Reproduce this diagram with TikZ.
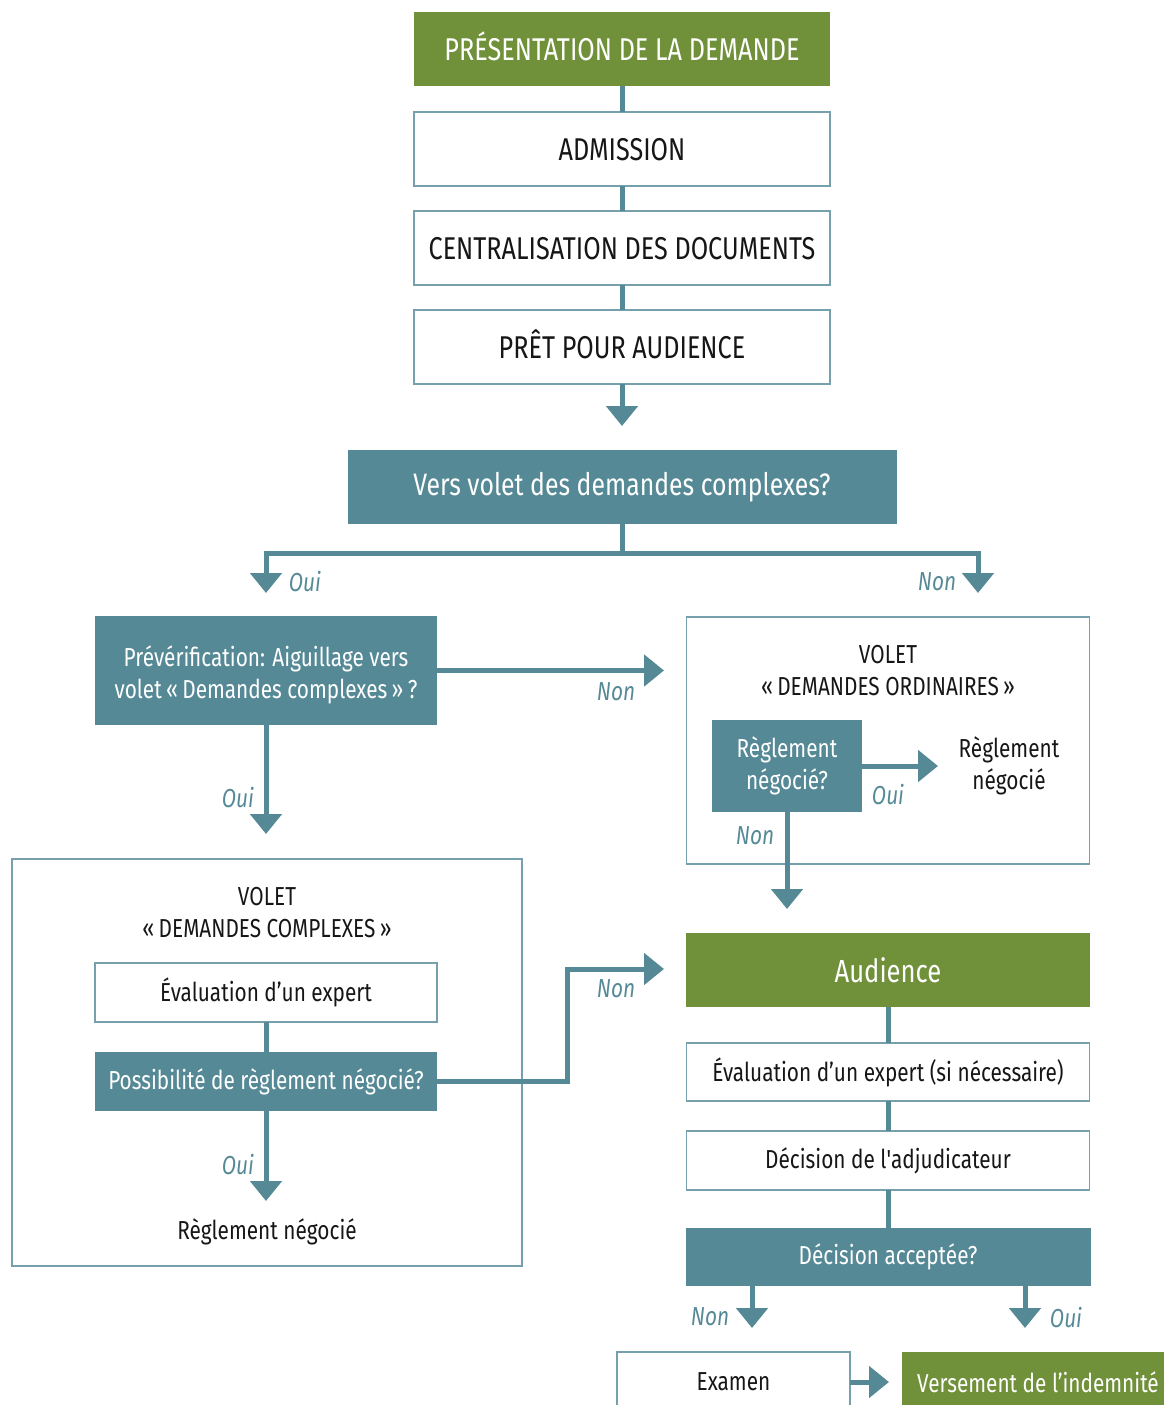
\documentclass[tikz,border=0pt]{standalone}
\usepackage{fontspec}
\setmainfont{Fira Sans}[FakeStretch=0.8]
\newfontfamily\flatquote{Fira Sans}[FakeStretch=0.8]
\usetikzlibrary{arrows.meta}
\definecolor{FlowTeal}{RGB}{85,137,150}
\definecolor{FlowGreen}{RGB}{112,144,58}
\definecolor{FlowEdge}{RGB}{118,160,172}
\definecolor{FlowInk}{RGB}{22,22,22}
\tikzset{
    flow/diagram/.style={
        x=1pt, y=-1pt,
        font=\fontsize{26}{32}\selectfont,
        text=FlowInk,
        line join=miter,
        every node/.style={inner sep=0pt, outer sep=0pt}
    },
    flow/title/.style={font=\fontsize{31.5}{34}\selectfont, text height=22pt, text depth=0pt},
    flow/green/.style={fill=FlowGreen, text=white, align=center},
    flow/stage/.style={
        draw=FlowEdge, line width=1.5pt, fill=white,
        text=FlowInk, align=center
    },
    flow/query/.style={fill=FlowTeal, text=white, align=center},
    flow/panel/.style={draw=FlowEdge, line width=1.5pt},
    flow/link/.style={draw=FlowTeal, line width=5pt},
    flow/arrow/.style={
        draw=FlowTeal, line width=5pt,
        -{Triangle[length=20pt, width=31pt]}
    },
    flow/answer/.style={text=FlowTeal, font=\fontsize{26}{32}\selectfont\itshape},
    flow/header/.style={align=center, text=FlowInk}
}
\begin{document}
\begin{tikzpicture}[flow/diagram]
    \useasboundingbox (0,0) rectangle (1164,1405);
    % panels
    \node[flow/panel, minimum width=403, minimum height=247] (ordi) at (888,740.5) {};
    \node[flow/panel, minimum width=510, minimum height=407] (cplx) at (267,1062.5) {};
    \node[flow/header] (ordihead) at (888,671) {VOLET\\«\,DEMANDES ORDINAIRES\,»};
    \node[flow/header] (cplxhead) at (267,913) {VOLET\\«\,DEMANDES COMPLEXES\,»};
    % upper chain
    \node[flow/green, flow/title, minimum width=416, minimum height=74] (pres) at (622,49) {PRÉSENTATION DE LA DEMANDE};
    \node[flow/stage, flow/title, minimum width=416, minimum height=74] (adm) at (622,149) {ADMISSION};
    \node[flow/stage, flow/title, minimum width=416, minimum height=74] (cent) at (622,248) {CENTRALISATION DES DOCUMENTS};
    \node[flow/stage, flow/title, minimum width=416, minimum height=74] (pret) at (622,347) {PRÊT POUR AUDIENCE};
    \node[flow/query, font=\fontsize{31}{36}\selectfont, minimum width=549, minimum height=74] (vers) at (622,487) {Vers volet des demandes complexes?};
    \node[flow/query, minimum width=342, minimum height=109] (prev) at (266,670.5) {\rule{0pt}{30pt}Prévérification: Aiguillage vers\\volet\,«\,Demandes complexes\,»\,?};
    % ordinary track
    \node[flow/query, minimum width=150, minimum height=92] (regq) at (787,766) {Règlement\\négocié?};
    \node[flow/header] (regA) at (1009,766) {Règlement\\négocié};
    % complex track
    \node[flow/stage, minimum width=342, minimum height=59] (evalA) at (266,992.5) {Évaluation d’un expert};
    \node[flow/query, minimum width=342, minimum height=59] (poss) at (266,1081.5) {Possibilité de règlement négocié?};
    \node (regB) at (267,1232) {Règlement négocié};
    % hearing
    \node[flow/green, font=\fontsize{32}{36}\selectfont, minimum width=404, minimum height=74] (aud) at (888,970) {Audience};
    \node[flow/stage, minimum width=403, minimum height=58] (evalB) at (888,1072) {Évaluation d’un expert (si nécessaire)};
    \node[flow/stage, minimum width=403, minimum height=59] (dec) at (888,1160.5) {Décision de l{\flatquote '}adjudicateur};
    \node[flow/query, minimum width=405, minimum height=58] (acc) at (888,1257) {Décision acceptée?};
    \node[flow/stage, minimum width=233, minimum height=60] (exam) at (733.5,1382) {Examen};
    \node[flow/green, minimum width=272, minimum height=60] (vers2) at (1038,1382) {Versement de l’indemnité};
    % free ends
    \coordinate (pretTip) at (622,426);
    \coordinate (split) at (622,553);
    \coordinate (ouiTip) at (266,593);
    \coordinate (nonTip) at (978,593);
    \coordinate (prevNon) at (664,670.5);
    \coordinate (prevOui) at (266,834);
    \coordinate (regOui) at (938,766);
    \coordinate (regNon) at (787,909);
    \coordinate (possOui) at (266,1201);
    \coordinate (possNon) at (664,969);
    \coordinate (accNon) at (752,1328);
    \coordinate (accOui) at (1025,1328);
    \coordinate (examTip) at (889,1382);
    % connectors
    \draw[flow/link] (pres) -- (adm);
    \draw[flow/link] (adm) -- (cent);
    \draw[flow/link] (cent) -- (pret);
    \draw[flow/arrow] (pret) -- (pretTip);
    \draw[flow/link] (vers) -- (split);
    \draw[flow/arrow] (split) -| (ouiTip);
    \draw[flow/arrow] (split) -| (nonTip);
    \draw[flow/arrow] (prev) -- (prevNon);
    \draw[flow/arrow] (prev) -- (prevOui);
    \draw[flow/arrow] (regq.east |- regOui) -- (regOui);
    \draw[flow/arrow] (regq) -- (regNon);
    \draw[flow/link] (evalA) -- (poss);
    \draw[flow/arrow] (poss) -- (possOui);
    \draw[flow/arrow] (poss.east) -- ++(130,0) |- (possNon);
    \draw[flow/link] (aud) -- (evalB);
    \draw[flow/link] (evalB) -- (dec);
    \draw[flow/link] (dec) -- (acc);
    \draw[flow/arrow] (acc.south -| accNon) -- (accNon);
    \draw[flow/arrow] (acc.south -| accOui) -- (accOui);
    \draw[flow/arrow] (exam) -- (examTip);
    % answers
    \node[flow/answer] (lOuiA) at (305,582) {Oui};
    \node[flow/answer] (lNonA) at (937,582) {Non};
    \node[flow/answer] (lNonB) at (616,692) {Non};
    \node[flow/answer] (lOuiB) at (238,798) {Oui};
    \node[flow/answer] (lOuiC) at (888,795) {Oui};
    \node[flow/answer] (lNonC) at (755,836) {Non};
    \node[flow/answer] (lNonD) at (616,989) {Non};
    \node[flow/answer] (lOuiD) at (238,1165) {Oui};
    \node[flow/answer] (lNonE) at (710,1317) {Non};
    \node[flow/answer] (lOuiE) at (1066,1317) {Oui};
\end{tikzpicture}
\end{document}
